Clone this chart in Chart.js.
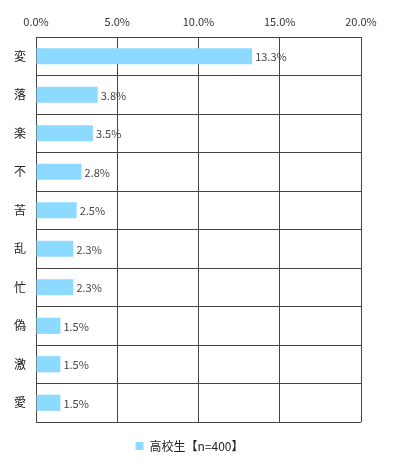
<!DOCTYPE html>
<html>
<head>
<meta charset="utf-8">
<script src="https://cdn.jsdelivr.net/npm/chart.js@4"></script>
<style>
  html, body { margin: 0; padding: 0; background: #fff; }
  #wrap { width: 396px; height: 468px; }
</style>
</head>
<body>
<div id="wrap"><canvas id="myChart" width="396" height="468"></canvas></div>
<script>
// データ
const categories = ['変', '落', '楽', '不', '苦', '乱', '忙', '偽', '激', '愛'];
const highSchool = [13.3, 3.8, 3.5, 2.8, 2.5, 2.3, 2.3, 1.5, 1.5, 1.5];
const seriesLabel = '高校生【n=400】';
const xTicks = [0, 5, 10, 15, 20];

const barColor = '#8cdaff';
const lineColor = '#444444';
const fontFamily = '"Noto Sans CJK JP", "Noto Sans", sans-serif';

// バーの右側に値ラベルを描く
const valueLabels = {
  id: 'valueLabels',
  afterDatasetsDraw(chart) {
    const c = chart.ctx;
    const meta = chart.getDatasetMeta(0);
    c.save();
    c.font = '11px ' + fontFamily;
    c.fillStyle = '#444';
    c.textAlign = 'left';
    c.textBaseline = 'middle';
    meta.data.forEach((bar, i) => {
      c.fillText(highSchool[i].toFixed(1) + '%', bar.x + 3, bar.y + 1);
    });
    c.restore();
  }
};

const chart = new Chart(document.getElementById('myChart'), {
  type: 'bar',
  data: {
    labels: categories,
    datasets: [{
      label: seriesLabel,
      data: highSchool,
      backgroundColor: barColor,
      borderWidth: 0,
      barPercentage: 0.42,
      categoryPercentage: 1.0
    }]
  },
  options: {
    indexAxis: 'y',
    responsive: false,
    animation: false,
    layout: { padding: { top: 0, right: 17, bottom: 6, left: 0 } },
    scales: {
      x: {
        position: 'top',
        min: 0,
        max: 20,
        afterBuildTicks: (scale) => { scale.ticks = xTicks.map(v => ({ value: v })); },
        afterFit: (scale) => { scale.height = 37; },
        ticks: {
          padding: 9,
          color: '#333',
          font: { size: 11, family: fontFamily },
          callback: (v) => Number(v).toFixed(1) + '%'
        },
        grid: { color: lineColor, drawTicks: false },
        border: { color: lineColor }
      },
      y: {
        afterFit: (scale) => { scale.width = 36; },
        ticks: {
          padding: 10,
          color: '#222',
          font: { size: 12, family: fontFamily }
        },
        grid: { color: lineColor, drawTicks: false, offset: true },
        border: { color: lineColor }
      },
      // 右側の余白用（表示なし）
      yRight: {
        position: 'right',
        afterFit: (scale) => { scale.width = 18; },
        ticks: { display: false },
        grid: { display: false, drawTicks: false },
        border: { display: false }
      }
    },
    plugins: {
      legend: {
        position: 'bottom',
        labels: {
          boxWidth: 8,
          boxHeight: 8,
          padding: 18,
          color: '#222',
          font: { size: 12, family: fontFamily }
        }
      },
      tooltip: { enabled: false }
    }
  },
  plugins: [valueLabels]
});
</script>
</body>
</html>
